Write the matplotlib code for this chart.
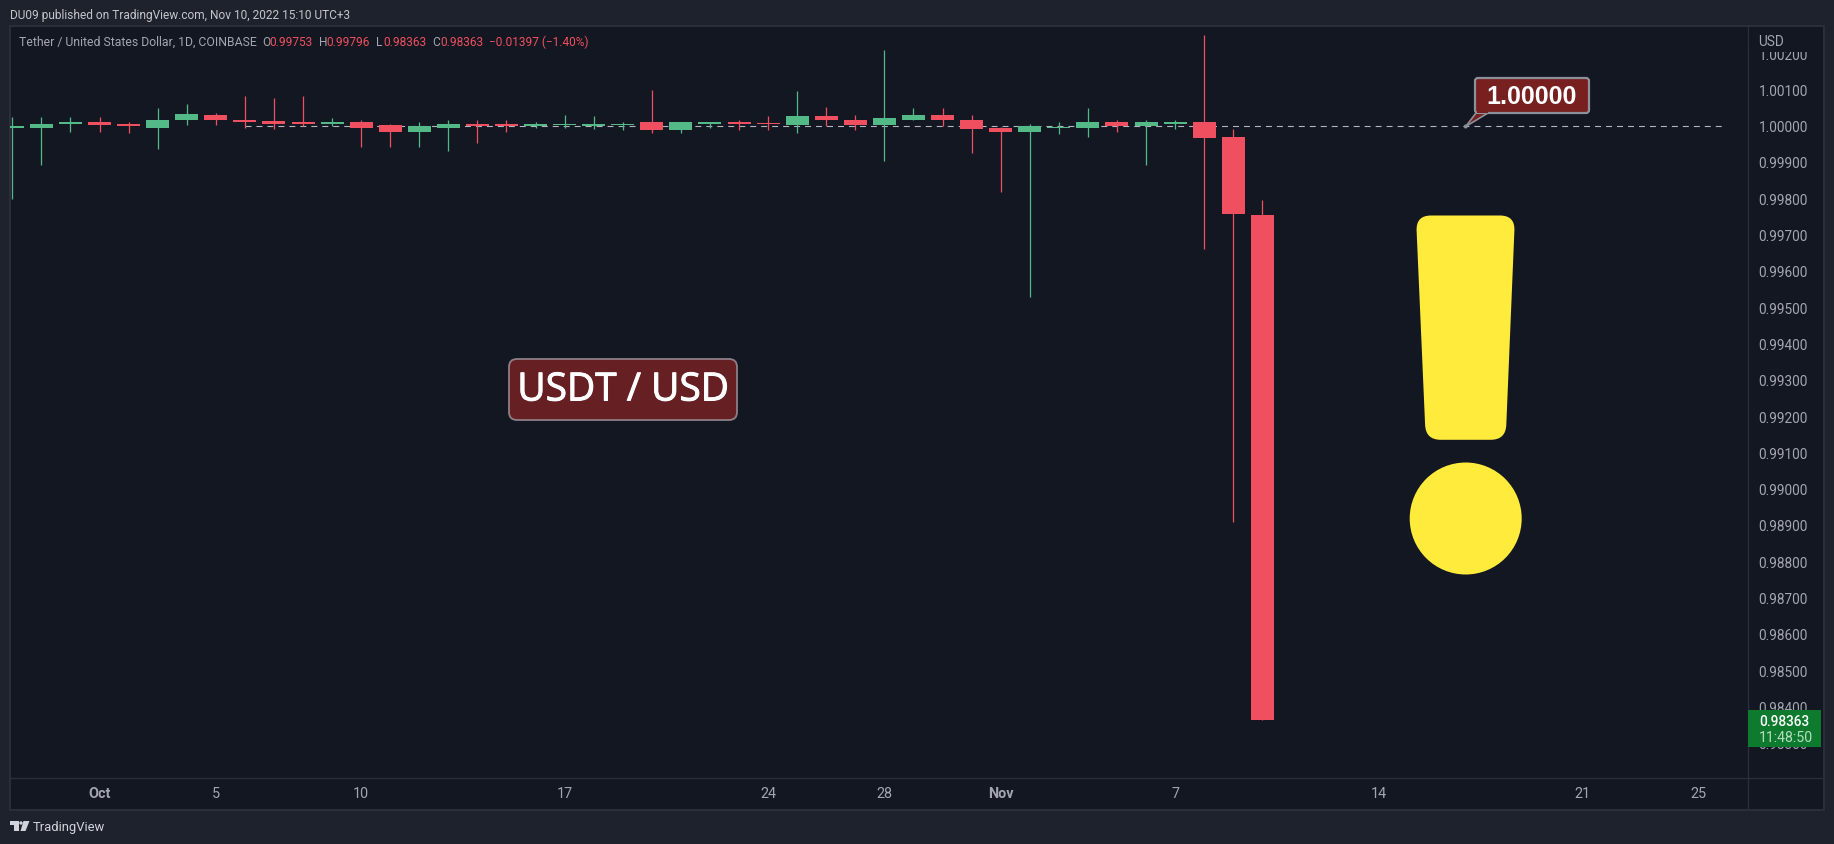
import pandas as pd
import matplotlib
matplotlib.use("Agg")
import matplotlib.pyplot as plt
import matplotlib.dates as mdates
import matplotlib.patheffects as pe
from matplotlib.patches import Circle, FancyBboxPatch, PathPatch, Polygon, Rectangle
from matplotlib.path import Path

plt.rcParams["font.family"] = ["Roboto", "DejaVu Sans"]
plt.rcParams["lines.scale_dashes"] = False

# daily candles
dates = pd.date_range("2022-09-28", "2022-11-10", freq="D")
opens = [0.99993, 0.99995, 1.00006, 1.00009, 1.00004, 0.99995, 1.00015, 1.00029, 1.00017, 1.00012, 1.00009,
         1.00004, 1.00009, 1.00001, 0.99982, 0.99995, 1.00004, 1.00004, 0.99998, 1.00001, 0.99998, 1.00001,
         1.00009, 0.99987, 1.00006, 1.00009, 1.00006, 1.00001, 1.00026, 1.00017, 1.00001, 1.00017, 1.00029,
         1.00017, 0.99993, 0.99984, 0.99993, 0.99993, 1.00009, 0.99998, 1.00006, 1.00009, 0.99968, 0.99753]
highs = [1.00023, 1.00023, 1.00023, 1.00023, 1.00009, 1.00048, 1.00059, 1.00034, 1.00081, 1.00075, 1.00081,
         1.00020, 1.00017, 1.00006, 1.00009, 1.00015, 1.00017, 1.00015, 1.00009, 1.00029, 1.00026, 1.00009,
         1.00098, 1.00009, 1.00009, 1.00015, 1.00026, 1.00095, 1.00051, 1.00029, 1.00208, 1.00048, 1.00048,
         1.00029, 0.99997, 1.00006, 1.00009, 1.00048, 1.00017, 1.00015, 1.00017, 1.00249, 0.99990, 0.99796]
lows = [0.99799, 0.99891, 0.99984, 0.99984, 0.99979, 0.99935, 1.00001, 1.00001, 0.99993, 0.99990, 1.00000,
        1.00000, 0.99940, 0.99940, 0.99940, 0.99929, 0.99951, 0.99982, 0.99993, 0.99993, 0.99990, 0.99987,
        0.99979, 0.99979, 0.99993, 0.99987, 0.99987, 0.99979, 0.99998, 0.99987, 0.99902, 1.00017, 0.99998,
        0.99926, 0.99816, 0.99529, 0.99976, 0.99968, 0.99984, 0.99893, 0.99990, 0.99661, 0.98909, 0.98363]
closes = [0.99998, 1.00006, 1.00009, 1.00001, 0.99998, 1.00017, 1.00031, 1.00015, 1.00009, 1.00006, 1.00004,
          1.00009, 0.99993, 0.99982, 0.99998, 1.00006, 0.99998, 0.99998, 1.00004, 1.00004, 1.00006, 1.00006,
          0.99987, 1.00009, 1.00009, 1.00004, 1.00004, 1.00026, 1.00017, 1.00001, 1.00020, 1.00029, 1.00015,
          0.99990, 0.99984, 0.99998, 0.99995, 1.00009, 0.99998, 1.00009, 1.00009, 0.99965, 0.99758, 0.98363]

y_ticks = [0.983, 0.984, 0.985, 0.986, 0.987, 0.988, 0.989, 0.990, 0.991, 0.992,
           0.993, 0.994, 0.995, 0.996, 0.997, 0.998, 0.999, 1.000, 1.001, 1.002]
x_tick_dates = ["2022-10-01", "2022-10-05", "2022-10-10", "2022-10-17", "2022-10-24", "2022-10-28",
                "2022-11-01", "2022-11-07", "2022-11-14", "2022-11-21", "2022-11-25"]
x_tick_labels = ["Oct", "5", "10", "17", "24", "28", "Nov", "7", "14", "21", "25"]

GREEN = "#53b987"
RED = "#ef4f5f"
PANEL = "#131722"
OUTER = "#1e222d"
BORDER = "#2a2e39"
GREY = "#a3a6af"
YELLOW = "#ffeb3b"

W, H = 1834, 845
fig = plt.figure(figsize=(W / 100, H / 100), dpi=100, facecolor=OUTER)


def pixel_axes(zorder):
    a = fig.add_axes([0, 0, 1, 1], zorder=zorder)
    a.set_xlim(0, W)
    a.set_ylim(H, 0)
    a.axis("off")
    return a


back = pixel_axes(0)
front = pixel_axes(2)

# chart panel and separators
back.add_patch(Rectangle((10, 27), 1814, 783.5, fc=PANEL, ec=BORDER, lw=1.5))
back.plot([1748, 1748], [27, 810], color=BORDER, lw=1)
back.plot([10, 1824], [778.5, 778.5], color=BORDER, lw=1)

# price axes
left, right, top, bottom = 10, 1748, 27, 778
ax = fig.add_axes([left / W, (H - bottom) / H, (right - left) / W, (bottom - top) / H], zorder=1)
ax.patch.set_alpha(0)
for s in ax.spines.values():
    s.set_visible(False)

x0 = mdates.date2num(dates[0])
day_px = 29.07
ax.set_xlim(x0 + (left - 12.3) / day_px, x0 + (right - 12.3) / day_px)
px_per_unit = 36.3 * 1000
zero_y = 126.7
ax.set_ylim(1 - (bottom - zero_y) / px_per_unit, 1 + (zero_y - top) / px_per_unit)

xs = mdates.date2num(dates)
colors = [GREEN if c >= o else RED for o, c in zip(opens, closes)]
bodies_low = [min(o, c) for o, c in zip(opens, closes)]
# thin bodies still need one visible pixel row
bodies_h = [max(abs(c - o), 1.3 / px_per_unit) for o, c in zip(opens, closes)]

ax.plot([mdates.date2num(pd.Timestamp("2022-10-06")), ax.get_xlim()[1] - 25 / day_px], [1.0, 1.0],
        color="#b2b5be", lw=0.8, dashes=(4.3, 3.6), dash_capstyle="butt", zorder=1)
ax.vlines(xs, lows, highs, colors=colors, lw=0.9, zorder=2)
ax.bar(xs, bodies_h, bottom=bodies_low, width=23 / day_px, color=colors, linewidth=0, zorder=3)

ax.yaxis.tick_right()
ax.set_yticks(y_ticks)
ax.set_yticklabels([f"{v:.5f}" for v in y_ticks], fontsize=9.8, color=GREY)
ax.tick_params(axis="y", length=0, pad=7.6)
ax.set_xticks(mdates.date2num(pd.to_datetime(x_tick_dates)))
ax.set_xticklabels(x_tick_labels, fontsize=10.4, color=GREY)
for lab in ax.get_xticklabels():
    if lab.get_text() in ("Oct", "Nov"):
        lab.set_fontweight("bold")
ax.tick_params(axis="x", length=0, pad=6.5)

# covers the top tick label like the USD header does
front.add_patch(Rectangle((1749, 28), 74, 25, fc=PANEL, ec="none"))
front.text(1758, 42, "USD", fontsize=9.8, color=GREY, va="center")

# header and legend line
front.text(10, 15, "DU09 published on TradingView.com, Nov 10, 2022 15:10 UTC+3", fontsize=8.6,
           color="#c3c5cb", va="center")
front.text(18.6, 42, "Tether / United States Dollar, 1D, COINBASE", fontsize=8.8, color=GREY, va="center")
legend_parts = [(262, "O", GREY), (269, "0.99753", RED), (319, "H", GREY), (326.6, "0.99796", RED),
                (376.4, "L", GREY), (383, "0.98363", RED), (432, "C", GREY), (440, "0.98363", RED),
                (489, "\u22120.01397 (\u22121.40%)", RED)]
for px, txt, col in legend_parts:
    front.text(px, 42, txt, fontsize=8.6, color=col, va="center")

# last price tag
front.add_patch(Rectangle((1748, 711), 73, 37, fc="#0e7a2e", ec="none"))
front.text(1759, 722, "0.98363", fontsize=9.8, color="white", va="center", fontweight="medium")
front.text(1759, 738, "11:48:50", fontsize=10.2, color="#b5dcc0", va="center")

# USDT / USD label
front.add_patch(FancyBboxPatch((517, 368), 212, 45, boxstyle="round,pad=8,rounding_size=8",
                               fc="#662024", ec="#8f7f85", lw=1.3))
front.text(623, 391.5, "USDT / USD", fontsize=28, color="white", ha="center", va="center",
           family=["Open Sans", "DejaVu Sans"],
           path_effects=[pe.withStroke(linewidth=0.7, foreground="white")])

# 1.00000 callout
front.add_patch(Polygon([(1465.7, 127.5), (1476, 114), (1488, 114)], closed=True, fc="#781f1f", ec="#8d9099", lw=1.2))
front.add_patch(FancyBboxPatch((1478, 82), 108, 29, boxstyle="round,pad=3,rounding_size=3",
                               fc="#781f1f", ec="#8d9099", lw=1.6))
front.add_patch(Rectangle((1477, 111), 11, 3.2, fc="#781f1f", ec="none"))
front.add_patch(Circle((1465.7, 127.5), 2, fc="#8d9099", ec="none"))
front.text(1532, 97, "1.00000", fontsize=18, color="white", ha="center", va="center", fontweight="bold",
           family=["Liberation Sans", "DejaVu Sans"])

# exclamation mark
r = 15
tl, tr, br, bl = (1416, 216.5), (1515, 216.5), (1505.7, 440.8), (1425.7, 440.8)
verts = [(tl[0] + r, tl[1]), (tr[0] - r, tr[1]), tr, (tr[0] - 0.6, tr[1] + r), (br[0] + 0.6, br[1] - r), br,
         (br[0] - r, br[1]), (bl[0] + r, bl[1]), bl, (bl[0] - 0.6, bl[1] - r), (tl[0] + 0.6, tl[1] + r), tl,
         (tl[0] + r, tl[1])]
codes = [Path.MOVETO, Path.LINETO, Path.CURVE3, Path.CURVE3, Path.LINETO, Path.CURVE3, Path.CURVE3, Path.LINETO,
         Path.CURVE3, Path.CURVE3, Path.LINETO, Path.CURVE3, Path.CURVE3]
front.add_patch(PathPatch(Path(verts, codes), fc=YELLOW, ec="none"))
front.add_patch(Circle((1465.7, 519.5), 56, fc=YELLOW, ec="none"))

# footer logo
LOGO = "#d1d4dc"
front.add_patch(Polygon([(10, 822), (19, 822), (19, 832), (14, 832), (14, 825.5), (10, 825.5)], fc=LOGO, ec="none"))
front.add_patch(Circle((21, 824), 1.7, fc=LOGO, ec="none"))
front.add_patch(Polygon([(23.5, 822), (29.5, 822), (25.5, 832), (20.5, 832)], fc=LOGO, ec="none"))
front.text(33, 828, "TradingView", fontsize=9.4, color=LOGO, va="center")

fig.savefig("out.png", dpi=100, facecolor=OUTER)
